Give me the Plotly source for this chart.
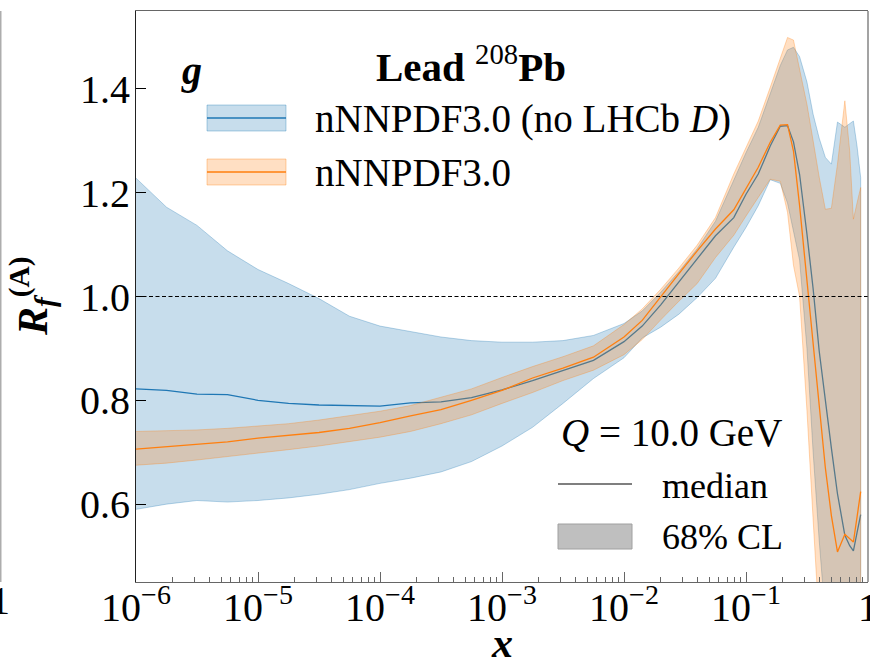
import plotly.graph_objects as go

# ---------------- data ----------------
x = [1e-6, 1.78e-6, 3.16e-6, 5.62e-6, 1e-5, 1.78e-5, 3.16e-5, 5.62e-5,
     1e-4, 1.78e-4, 3.16e-4, 5.62e-4, 1e-3, 1.78e-3, 3.16e-3, 5.62e-3,
     1e-2, 0.0141, 0.02, 0.0282, 0.0398, 0.0562, 0.0794, 0.1, 0.126, 0.158,
     0.191, 0.219, 0.245, 0.275, 0.316, 0.355, 0.398, 0.447, 0.501, 0.562,
     0.646, 0.708, 0.759, 0.813, 0.871]

# nNNPDF3.0 (no LHCb D)  -- blue
blue_med = [0.822, 0.819, 0.812, 0.811, 0.800, 0.794, 0.791, 0.790, 0.789, 0.795,
            0.797, 0.805, 0.820, 0.838, 0.857, 0.877, 0.913, 0.943, 0.984, 1.028,
            1.072, 1.117, 1.152, 1.197, 1.236, 1.290, 1.328, 1.329, 1.298, 1.235,
            1.120, 1.015, 0.895, 0.797, 0.708, 0.620, 0.540, 0.520, 0.510, 0.545,
            0.580]
blue_up = [1.228, 1.172, 1.137, 1.088, 1.052, 1.025, 0.996, 0.962, 0.943, 0.933,
           0.922, 0.915, 0.912, 0.912, 0.915, 0.925, 0.948, 0.972, 1.008, 1.048,
           1.092, 1.145, 1.226, 1.277, 1.326, 1.390, 1.445, 1.475, 1.480, 1.462,
           1.413, 1.351, 1.305, 1.268, 1.255, 1.336, 1.326, 1.333, 1.338, 1.290,
           1.229]
blue_lo = [0.590, 0.600, 0.607, 0.604, 0.607, 0.612, 0.619, 0.628, 0.640, 0.650,
           0.662, 0.682, 0.712, 0.748, 0.794, 0.842, 0.882, 0.920, 0.941, 0.966,
           0.998, 1.035, 1.095, 1.133, 1.175, 1.225, 1.218, 1.180, 1.125, 1.070,
           0.900, 0.700, 0.530, 0.380, 0.100, 0.100, 0.100, 0.100, 0.100, 0.100,
           0.100]

# nNNPDF3.0 -- orange
orange_med = [0.706, 0.711, 0.716, 0.720, 0.727, 0.732, 0.738, 0.746, 0.757, 0.770,
              0.782, 0.800, 0.819, 0.843, 0.862, 0.883, 0.922, 0.954, 1.000, 1.044,
              1.088, 1.130, 1.167, 1.208, 1.249, 1.297, 1.330, 1.331, 1.280, 1.175,
              1.033, 0.905, 0.790, 0.670, 0.578, 0.508, 0.542, 0.533, 0.527, 0.575,
              0.624]
orange_up = [0.740, 0.741, 0.743, 0.746, 0.750, 0.755, 0.762, 0.770, 0.779, 0.790,
             0.806, 0.822, 0.844, 0.865, 0.884, 0.905, 0.946, 0.976, 1.014, 1.055,
             1.099, 1.152, 1.236, 1.287, 1.338, 1.403, 1.461, 1.499, 1.494, 1.440,
             1.370, 1.300, 1.230, 1.168, 1.170, 1.255, 1.377, 1.280, 1.149, 1.180,
             1.210]
orange_lo = [0.675, 0.679, 0.685, 0.692, 0.698, 0.705, 0.712, 0.720, 0.729, 0.740,
             0.755, 0.772, 0.794, 0.815, 0.838, 0.858, 0.888, 0.917, 0.955, 0.991,
             1.025, 1.075, 1.118, 1.155, 1.192, 1.226, 1.222, 1.162, 1.060, 1.000,
             0.780, 0.570, 0.370, 0.200, 0.100, 0.100, 0.100, 0.100, 0.100, 0.100,
             0.100]

x_tick_vals = [1e-6, 1e-5, 1e-4, 1e-3, 1e-2, 1e-1, 1]
x_tick_text = ["10<sup>\u22126</sup>", "10<sup>\u22125</sup>", "10<sup>\u22124</sup>",
               "10<sup>\u22123</sup>", "10<sup>\u22122</sup>", "10<sup>\u22121</sup>", "1"]
y_tick_vals = [0.6, 0.8, 1.0, 1.2, 1.4]
y_tick_text = ["0.6", "0.8", "1.0", "1.2", "1.4"]

labels = ["nNNPDF3.0 (no LHCb <i>D</i>)", "nNNPDF3.0"]

# ---------------- figure ----------------
W, H = 870, 663
ML, MR, MT, MB = 136, 2, 11, 81
PW, PH = W - ML - MR, H - MT - MB


def px(v):
    return (v - ML) / PW


def py(v):
    return (H - MB - v) / PH


BLUE = "31,119,180"
ORANGE = "255,127,14"
FONT = "Liberation Serif"

fig = go.Figure()


def add_band(lo, up, rgb):
    fig.add_trace(go.Scatter(
        x=x + x[::-1], y=up + lo[::-1], mode="lines", fill="toself",
        fillcolor=f"rgba({rgb},0.25)", line=dict(color=f"rgba({rgb},0.30)", width=1),
        hoverinfo="skip", showlegend=False))


def add_line(med, rgb):
    fig.add_trace(go.Scatter(
        x=x, y=med, mode="lines", line=dict(color=f"rgb({rgb})", width=1.3),
        hoverinfo="skip", showlegend=False))


add_band(blue_lo, blue_up, BLUE)
add_line(blue_med, BLUE)
add_band(orange_lo, orange_up, ORANGE)
add_line(orange_med, ORANGE)

minor_vals = [m * 10.0 ** k for k in range(-6, 0) for m in range(2, 10)]

fig.update_xaxes(
    type="log", range=[-6, 0], tickmode="array", tickvals=x_tick_vals, ticktext=x_tick_text,
    ticks="inside", ticklen=10, tickwidth=1, tickcolor="#666", automargin=False,
    ticklabelstandoff=-10, ticklabeloverflow="allow",
    showline=True, linecolor="#666", linewidth=1.2, mirror=True,
    showgrid=False, zeroline=False, tickfont=dict(size=40, family=FONT, color="black"),
    minor=dict(tickvals=minor_vals, ticks="inside", ticklen=5, tickwidth=1,
               tickcolor="#666", showgrid=False))
fig.update_yaxes(
    range=[0.45, 1.55], tickmode="array", tickvals=y_tick_vals, ticktext=y_tick_text,
    ticks="inside", ticklen=10, tickwidth=1, tickcolor="black", automargin=False,
    ticklabelstandoff=-3,
    showline=True, linecolor="#222", linewidth=1.2, mirror=False,
    showgrid=False, zeroline=False, tickfont=dict(size=40, family=FONT, color="black"))

shapes = []
# reference line at 1
shapes.append(dict(type="line", xref="paper", yref="y", x0=0, x1=1, y0=1.0, y1=1.0,
                   line=dict(color="black", width=1.1, dash="4px,2.5px")))
# right spine
shapes.append(dict(type="line", xref="paper", yref="paper", x0=1, x1=1, y0=0, y1=1,
                   line=dict(color="#666", width=1.2)))
# neighbouring panel's spine (clipped figure edge)
shapes.append(dict(type="line", xref="paper", yref="paper", x0=px(0.8), x1=px(0.8),
                   y0=py(582), y1=py(11), line=dict(color="#999", width=1.2)))

# top legend patches
for (y0p, y1p, ylp, rgb) in [(105, 131, 118, BLUE), (159, 185, 172, ORANGE)]:
    shapes.append(dict(type="rect", xref="paper", yref="paper", x0=px(207), x1=px(286),
                       y0=py(y1p), y1=py(y0p), fillcolor=f"rgba({rgb},0.25)",
                       line=dict(color=f"rgba({rgb},0.35)", width=1)))
    shapes.append(dict(type="line", xref="paper", yref="paper", x0=px(207), x1=px(286),
                       y0=py(ylp), y1=py(ylp), line=dict(color=f"rgb({rgb})", width=1.3)))

# bottom-right legend
shapes.append(dict(type="line", xref="paper", yref="paper", x0=px(558), x1=px(632),
                   y0=py(484), y1=py(484), line=dict(color="#555", width=1.5)))
shapes.append(dict(type="rect", xref="paper", yref="paper", x0=px(558), x1=px(632),
                   y0=py(549), y1=py(524), fillcolor="#bfbfbf",
                   line=dict(color="#a0a0a0", width=1)))

annotations = []


def note(text, xx, yy, size, xanchor="left", angle=0):
    annotations.append(dict(text=text, xref="paper", yref="paper", x=px(xx), y=py(yy),
                            xanchor=xanchor, yanchor="middle", showarrow=False,
                            textangle=angle, font=dict(size=size, family=FONT, color="black")))


note("<b><i>g</i></b>", 191, 70, 40, xanchor="center")
note("<b>Lead </b><sup>208</sup><b>Pb</b>", 471, 64, 41, xanchor="center")
note(labels[0], 313, 119, 39)
note(labels[1], 313, 173, 39)
note("<i>Q</i> = 10.0 GeV", 559, 432, 39)
note("median", 660, 486, 36)
note("68% CL", 660, 537, 36)
note("<b><i>x</i></b>", 502, 643, 42, xanchor="center")
note("<b><i>R</i><sub><i>f</i></sub><sup>(A)</sup></b>", 32, 296, 42, xanchor="center", angle=-90)
note("1", 0, 600, 40, xanchor="center")

fig.update_layout(
    width=W, height=H, margin=dict(l=ML, r=MR, t=MT, b=MB),
    plot_bgcolor="white", paper_bgcolor="white", showlegend=False,
    font=dict(family=FONT, color="black"), shapes=shapes, annotations=annotations)

fig.write_html("out.html", config={"displayModeBar": False},
               post_script="document.body.style.margin='0';")
